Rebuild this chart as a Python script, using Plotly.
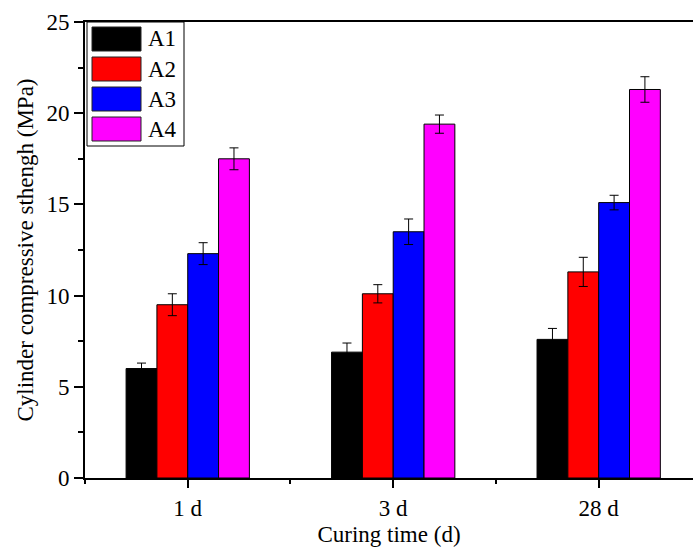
import plotly.graph_objects as go

categories = ["1 d", "3 d", "28 d"]
series_names = ["A1", "A2", "A3", "A4"]
A1 = [6.0, 6.9, 7.6]
A2 = [9.5, 10.1, 11.3]
A3 = [12.3, 13.5, 15.1]
A4 = [17.5, 19.4, 21.3]
A1_err = [0.3, 0.5, 0.6]
A2_err = [0.6, 0.5, 0.8]
A3_err = [0.6, 0.7, 0.4]
A4_err = [0.6, 0.5, 0.7]
colors = ["#000000", "#FF0000", "#0000FF", "#FF00FF"]
y_ticks = [0, 5, 10, 15, 20, 25]

values = [A1, A2, A3, A4]
errors = [A1_err, A2_err, A3_err, A4_err]
xpos = list(range(len(categories)))

FONT = "Liberation Serif"
W, H = 693, 550
L, R, T, B = 85, 0, 22, 72

fig = go.Figure()
for name, v, e, c in zip(series_names, values, errors, colors):
    fig.add_trace(go.Bar(
        x=xpos, y=v, name=name, showlegend=False,
        marker=dict(color=c, line=dict(color="black", width=1)),
        error_y=dict(type="data", array=e, visible=True, color="black",
                     thickness=1, width=4.5),
    ))

# manual legend (large swatches like reference)
pw = W - L - R
ph = H - T - B
def px2x(px):
    return (px - L) / pw
def py2y(py):
    return (H - B - py) / ph

shapes = [dict(type="rect", xref="paper", yref="paper",
               x0=px2x(87), x1=px2x(184), y0=py2y(146), y1=py2y(22),
               line=dict(color="black", width=1), fillcolor="white", layer="above")]
annotations = []
for i, (name, c) in enumerate(zip(series_names, colors)):
    top = 27 + 30 * i
    shapes.append(dict(type="rect", xref="paper", yref="paper",
                       x0=px2x(92), x1=px2x(141), y0=py2y(top + 24), y1=py2y(top),
                       line=dict(color="#222222", width=1), fillcolor=c, layer="above"))
    annotations.append(dict(xref="paper", yref="paper", x=px2x(146), y=py2y(top + 12),
                            text=name, showarrow=False, xanchor="left", yanchor="middle",
                            font=dict(family=FONT, size=23, color="black")))

fig.update_layout(
    width=W, height=H,
    margin=dict(l=L, r=R, t=T, b=B),
    paper_bgcolor="white", plot_bgcolor="white",
    barmode="group", bargap=0.4, bargroupgap=0,
    font=dict(family=FONT, size=23, color="black"),
    shapes=shapes, annotations=annotations,
    xaxis=dict(
        range=[-0.5, 2.459], tickmode="array", tickvals=xpos, ticktext=categories,
        showline=True, linecolor="black", linewidth=2, mirror=True,
        ticks="outside", ticklen=8, tickwidth=1.5, tickcolor="black",
        minor=dict(tickmode="array", tickvals=[-0.5, 0.5, 1.5, 2.5],
                   ticks="outside", ticklen=4, tickwidth=1.5, tickcolor="black"),
        showgrid=False, zeroline=False,
        title=dict(text="Curing time (d)", font=dict(family=FONT, size=23), standoff=6),
        tickfont=dict(family=FONT, size=23),
    ),
    yaxis=dict(
        range=[0, 25], tickmode="array", tickvals=y_ticks,
        showline=True, linecolor="black", linewidth=2,
        ticks="outside", ticklen=9, tickwidth=1.5, tickcolor="black",
        minor=dict(dtick=2.5, tick0=0, ticks="outside", ticklen=5, tickwidth=1.5,
                   tickcolor="black"),
        showgrid=False, zeroline=False,
        title=dict(text="Cylinder compressive sthengh (MPa)",
                   font=dict(family=FONT, size=23), standoff=6),
        tickfont=dict(family=FONT, size=23),
    ),
)

fig.write_html("out.html")
